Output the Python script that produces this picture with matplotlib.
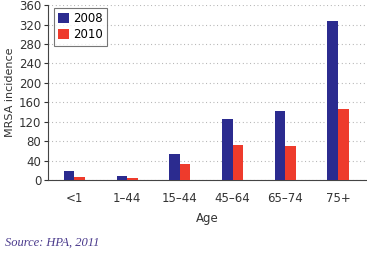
import matplotlib
matplotlib.use("Agg")
import matplotlib.pyplot as plt
import numpy as np

ages = ["<1", "1\u201344", "15\u201344", "45\u201364", "65\u201374", "75+"]
vals_2008 = [18, 8, 53, 125, 142, 328]
vals_2010 = [7, 5, 32, 73, 69, 147]
yticks = list(range(0, 361, 40))

fig = plt.figure(figsize=(3.67, 2.56), dpi=100)
ax = fig.add_axes([0.131, 0.297, 0.869, 0.683])

x = np.arange(len(ages))
w = 0.2
ax.bar(x - w / 2, vals_2008, w, color="#2b2b8f", label="2008", zorder=3)
ax.bar(x + w / 2, vals_2010, w, color="#ee3b2c", label="2010", zorder=3)

ax.set_xlim(-0.5, 5.55)
ax.set_ylim(0, 360)
ax.set_yticks(yticks)
ax.set_xticks(x)
ax.set_xticklabels(ages)
ax.tick_params(axis="x", length=0, pad=9, labelsize=8.5, colors="#333333")
ax.tick_params(axis="y", length=3, width=0.8, pad=2, labelsize=8.5, colors="#333333")
ax.yaxis.grid(True, linestyle=(0, (0.8, 2.5)), color="#aaaaaa", linewidth=0.8)
ax.set_axisbelow(True)
for s in ["top", "right"]:
    ax.spines[s].set_visible(False)
for s in ["left", "bottom"]:
    ax.spines[s].set_color("#444444")
    ax.spines[s].set_linewidth(0.8)

ax.set_xlabel("Age", fontsize=8.5, color="#333333", labelpad=5)
ax.set_ylabel("MRSA incidence", fontsize=8, color="#333333", labelpad=3)

leg = ax.legend(loc="upper left", fontsize=8.5, frameon=True, fancybox=False,
                handlelength=0.9, handleheight=0.9, handletextpad=0.4,
                borderpad=0.35, labelspacing=0.3, borderaxespad=0,
                bbox_to_anchor=(0.018, 0.985))
leg.get_frame().set_edgecolor("#555555")
leg.get_frame().set_linewidth(0.8)

fig.text(0.014, 0.04, "Source: HPA, 2011", fontsize=9, style="italic",
         family="Liberation Serif", color="#4a3a8c")

fig.savefig("out.png", dpi=100)
